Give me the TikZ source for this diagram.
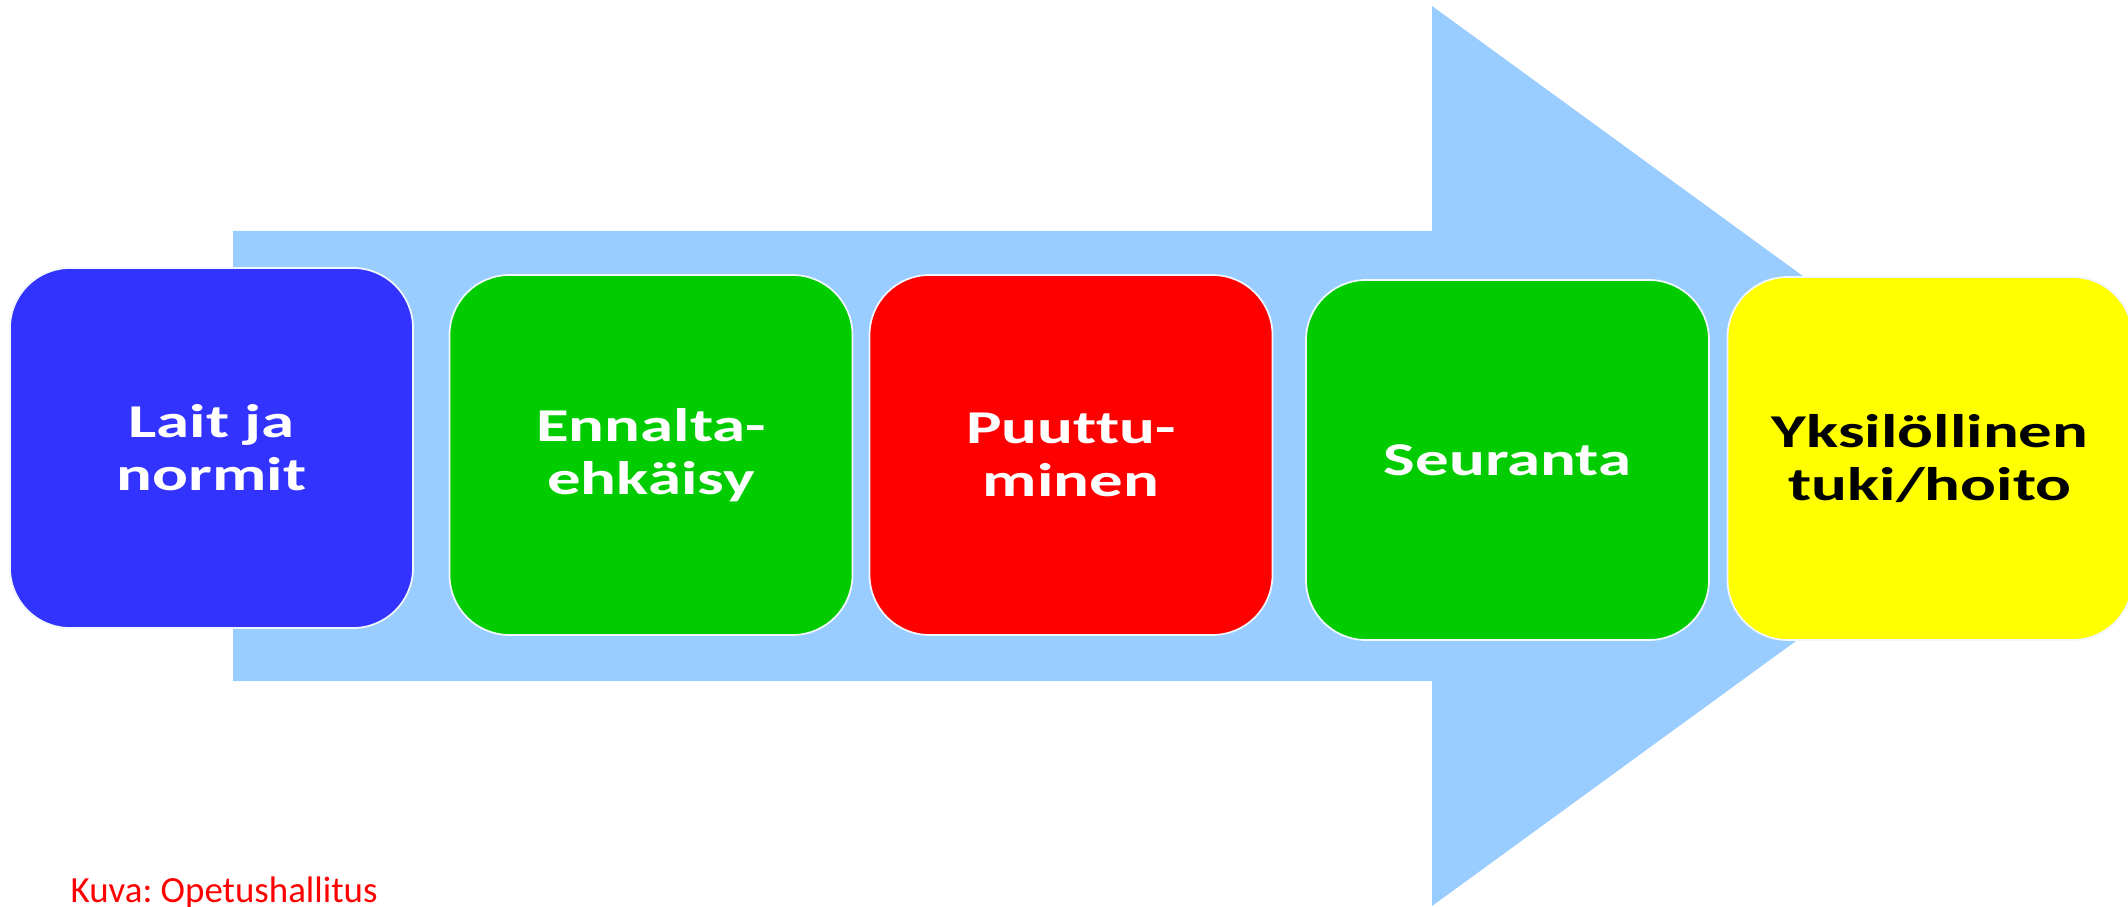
\documentclass[tikz,border=0pt]{standalone}
\usepackage{fontspec}
\setmainfont{Carlito}
\newfontfamily\stagefont[FakeStretch=1.42, Ligatures=NoCommon]{Carlito}
\usepackage{xcolor}
\definecolor{arrowblue}{HTML}{99CCFF}
\definecolor{lawblue}{HTML}{3333FF}
\definecolor{stagegreen}{HTML}{00CC00}
\definecolor{stagered}{HTML}{FF0000}
\definecolor{stageyellow}{HTML}{FFFF00}
\frenchspacing

\tikzset{
  stage/.style={rounded corners=0.6cm, draw=white!85!arrowblue, line width=0.5pt,
    minimum width=4.03cm, minimum height=3.6cm, align=center, inner sep=0pt,
    text=white, font=\stagefont\bfseries\fontsize{13.4}{15.1}\selectfont},
}

\begin{document}
\begin{tikzpicture}
              \useasboundingbox (0,0) rectangle (21.28,9.06);
              % big arrow behind the stages
              \fill[arrowblue] (2.33,2.25) -- (14.32,2.25) -- (14.32,0) -- (20.5,4.5)
                -- (14.32,9.0) -- (14.32,6.75) -- (2.33,6.75) -- cycle;
              \node[stage, fill=lawblue] (lait) at (2.115,4.58) {Lait ja\\normit};
              \node[stage, fill=stagegreen] (ennalta) at (6.51,4.51) {Ennalta-\\ehkäisy};
              \node[stage, fill=stagered] (puuttu) at (10.71,4.51) {Puuttu-\\minen};
              \node[stage, fill=stagegreen] (seuranta) at (15.075,4.46) {Seuranta};
              \node[stage, fill=stageyellow, text=black, minimum width=4.05cm,
                minimum height=3.63cm] (tuki) at (19.30,4.475) {Yksilöllinen\\tuki/hoito};
              \node[anchor=base west, inner sep=0pt, text=stagered,
                font=\fontsize{10.5}{12}\selectfont] (kuva) at (0.70,0.04) {Kuva: Opetushallitus};
            \end{tikzpicture}
\end{document}
